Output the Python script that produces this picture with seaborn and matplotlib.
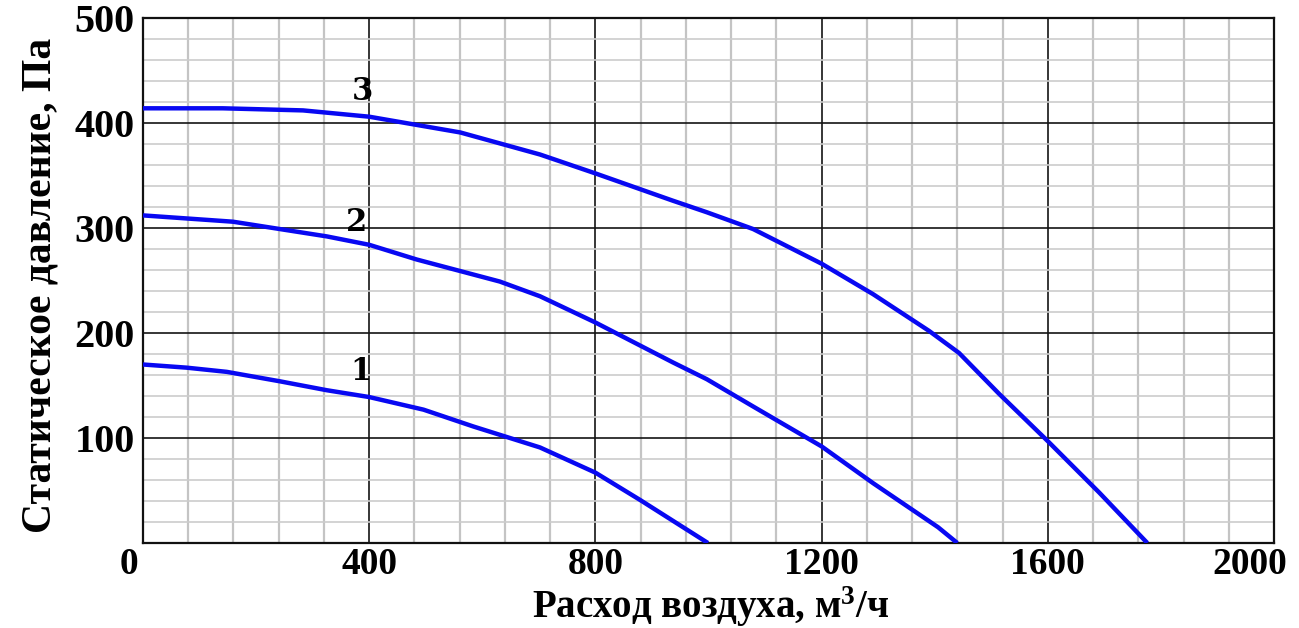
import matplotlib
matplotlib.use("Agg")
import matplotlib.pyplot as plt
import matplotlib.transforms as mtransforms
import seaborn as sns
import pandas as pd
import numpy as np

# ---- data ----
x1 = [0, 77, 148, 242, 325, 400, 496, 584, 702, 800, 879, 999]
y1 = [170, 167, 163, 154, 145.5, 139, 127, 111, 91, 67, 41, 0]

x2 = [0, 159, 242, 325, 400, 484, 561, 631, 702, 800, 937, 997, 1079, 1200, 1291, 1406, 1440]
y2 = [312, 306, 299, 292, 284, 270, 259, 249, 235, 210, 172, 156, 130, 92, 57, 15, 0]

x3 = [0, 141, 283, 400, 561, 702, 800, 937, 997, 1079, 1200, 1291, 1390, 1443, 1514, 1600, 1691, 1776]
y3 = [414, 414, 412, 406, 391, 370, 352, 326, 315, 299, 266, 237, 202, 181, 142, 97, 48, 0]

curve_names = ["1", "2", "3"]
label_pos = [(385, 163), (378, 305), (388, 430)]

xticks = [0, 400, 800, 1200, 1600, 2000]
yticks = [100, 200, 300, 400, 500]

xlabel = "Расход воздуха, м$^{3}$/ч"
ylabel = "Статическое давление, Па"

# ---- style ----
sns.set_theme(style="white")
plt.rcParams["font.family"] = ["Liberation Serif", "DejaVu Serif"]
plt.rcParams["font.weight"] = "bold"
plt.rcParams["text.color"] = "black"
plt.rcParams["axes.labelcolor"] = "black"
plt.rcParams["xtick.color"] = "black"
plt.rcParams["ytick.color"] = "black"
plt.rcParams["mathtext.fontset"] = "custom"
plt.rcParams["mathtext.rm"] = "Liberation Serif:bold"
plt.rcParams["mathtext.it"] = "Liberation Serif:bold"
plt.rcParams["mathtext.bf"] = "Liberation Serif:bold"
plt.rcParams["mathtext.default"] = "rm"

fig = plt.figure(figsize=(12.99, 6.28), dpi=100)
ax = fig.add_axes([143 / 1299, 85 / 628, 1131 / 1299, 525 / 628])

frames = []
for name, xs, ys in zip(curve_names, [x1, x2, x3], [y1, y2, y3]):
    frames.append(pd.DataFrame({"x": xs, "y": ys, "curve": name}))
df = pd.concat(frames, ignore_index=True)

sns.lineplot(data=df, x="x", y="y", units="curve", estimator=None,
             color="#0808f2", linewidth=3.2, ax=ax, legend=False,
             solid_joinstyle="round", solid_capstyle="butt", zorder=5)

ax.set_xlim(0, 2000)
ax.set_ylim(0, 500)

# grid
ax.set_xticks(np.arange(0, 2001, 80), minor=True)
ax.set_yticks(np.arange(0, 501, 20), minor=True)
ax.set_xticks(xticks)
ax.set_yticks(yticks)
ax.grid(which="minor", axis="x", color="#c4c4c4", linewidth=1.6, zorder=0)
ax.grid(which="minor", axis="y", color="#cccccc", linewidth=1.2, zorder=0)
ax.grid(which="major", color="#141414", linewidth=1.2, zorder=1)
ax.set_axisbelow(True)
ax.tick_params(which="both", length=0)
ax.tick_params(axis="x", pad=3, labelsize=27)
ax.tick_params(axis="y", pad=6, labelsize=29)
ax.set_xticklabels([str(t) for t in xticks], fontweight="bold")
ax.set_yticklabels([str(t) for t in yticks], fontweight="bold")

for s in ax.spines.values():
    s.set_visible(True)
    s.set_color("#111111")
    s.set_linewidth(1.6)

# shift edge tick labels like the reference
xl = ax.get_xticklabels()
xl[0].set_ha("right")
xl[0].set_transform(xl[0].get_transform() + mtransforms.ScaledTranslation(-5 / 100, 0, fig.dpi_scale_trans))
xl[-1].set_transform(xl[-1].get_transform() + mtransforms.ScaledTranslation(-24 / 100, 0, fig.dpi_scale_trans))

ax.set_xlabel(xlabel, fontsize=28, fontweight="bold")
ax.xaxis.label.set_va("baseline")
ax.set_ylabel(ylabel, fontsize=30, fontweight="bold")
ax.xaxis.set_label_coords(0.502, -(618 - 543) / 525)
ax.yaxis.set_label_coords(-0.074, 0.49)

for name, (lx, ly) in zip(curve_names, label_pos):
    ax.text(lx, ly, name, fontsize=22, fontweight="bold", ha="center", va="center",
            family=["DejaVu Serif"], color="black", zorder=6)

fig.savefig("out.png", dpi=100, facecolor="white")
